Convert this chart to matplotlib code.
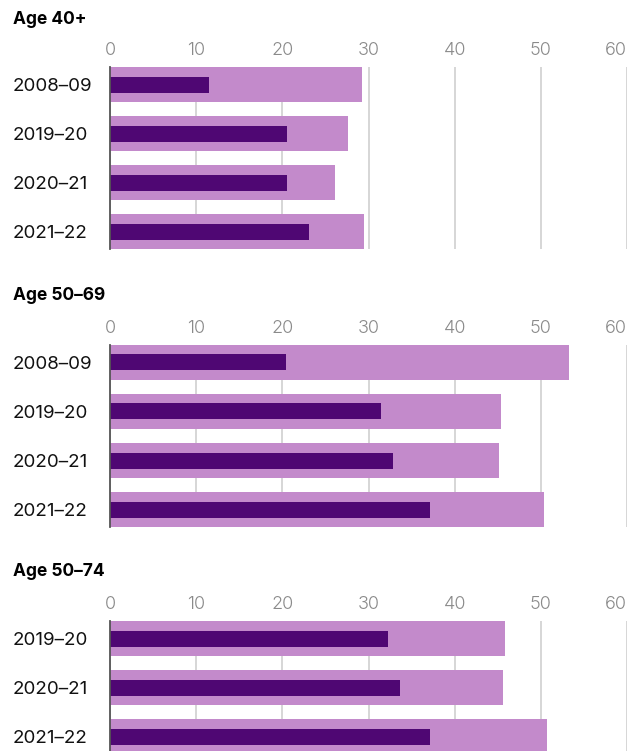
import matplotlib
matplotlib.use("Agg")
import matplotlib.pyplot as plt

plt.rcParams['font.family'] = ['Inter', 'DejaVu Sans']

# Panel titles, row labels and values (per cent)
titles = ["Age 40+", "Age 50\u201369", "Age 50\u201374"]
periods_40 = ["2008\u201309", "2019\u201320", "2020\u201321", "2021\u201322"]
periods_5069 = ["2008\u201309", "2019\u201320", "2020\u201321", "2021\u201322"]
periods_5074 = ["2019\u201320", "2020\u201321", "2021\u201322"]

outer_40 = [29.2, 27.6, 26.1, 29.5]
inner_40 = [11.5, 20.5, 20.5, 23.1]
outer_5069 = [53.3, 45.4, 45.2, 50.4]
inner_5069 = [20.4, 31.5, 32.9, 37.1]
outer_5074 = [45.8, 45.6, 50.7]
inner_5074 = [32.3, 33.6, 37.1]

x_ticks = [0, 10, 20, 30, 40, 50, 60]

LIGHT = "#C38ACB"
DARK = "#4F0773"

W, H = 642, 751
fig = plt.figure(figsize=(W / 100, H / 100), dpi=100)

pitch = 49.0       # px per row
outer_h = 35.0     # px
inner_h = 16.0     # px
left_px, right_px = 110, 627

panels = [
    (titles[0], periods_40, outer_40, inner_40, 67, 19),
    (titles[1], periods_5069, outer_5069, inner_5069, 345, 296),
    (titles[2], periods_5074, outer_5074, inner_5074, 621, 572),
]

for title, cats, outer, inner, top_px, title_px in panels:
    n = len(cats)
    height_px = (n - 1) * pitch + outer_h
    bottom_px = top_px + height_px
    ax = fig.add_axes([left_px / W, 1 - bottom_px / H,
                       (right_px - left_px) / W, height_px / H])
    y = list(range(n))
    bh_outer = outer_h / pitch
    bh_inner = inner_h / pitch
    ax.barh(y, outer, height=bh_outer, color=LIGHT, zorder=2)
    ax.barh(y, inner, height=bh_inner, color=DARK, zorder=3)
    ax.set_ylim(n - 1 + bh_outer / 2, -bh_outer / 2)
    ax.set_xlim(0, 60)

    ax.set_xticks(x_ticks)
    ax.set_xticklabels([str(t) for t in x_ticks])
    ax.xaxis.tick_top()
    ax.tick_params(axis='x', length=0, pad=6, labelsize=13,
                   labelcolor="#8a8a8a")
    xlabs = ax.get_xticklabels()
    for lab in xlabs:
        lab.set_fontweight(300)
    xlabs[-1].set_horizontalalignment('right')

    ax.set_yticks(y)
    ax.set_yticklabels(cats)
    ax.tick_params(axis='y', length=0, pad=(left_px - 13) * 0.72,
                   labelsize=13.5, labelcolor="#111111")
    for lab in ax.get_yticklabels():
        lab.set_horizontalalignment('left')

    ax.grid(axis='x', color="#d6d6d6", linewidth=1.4, zorder=0)
    ax.set_axisbelow(True)
    for s in ["top", "right", "bottom"]:
        ax.spines[s].set_visible(False)
    ax.spines["left"].set_color("#555555")
    ax.spines["left"].set_linewidth(1.3)
    ax.spines["left"].set_zorder(4)

    fig.text(13 / W, 1 - title_px / H, title, fontsize=12.5,
             fontweight='bold', color="#000000", ha='left', va='center')

fig.savefig("out.png", dpi=100)
